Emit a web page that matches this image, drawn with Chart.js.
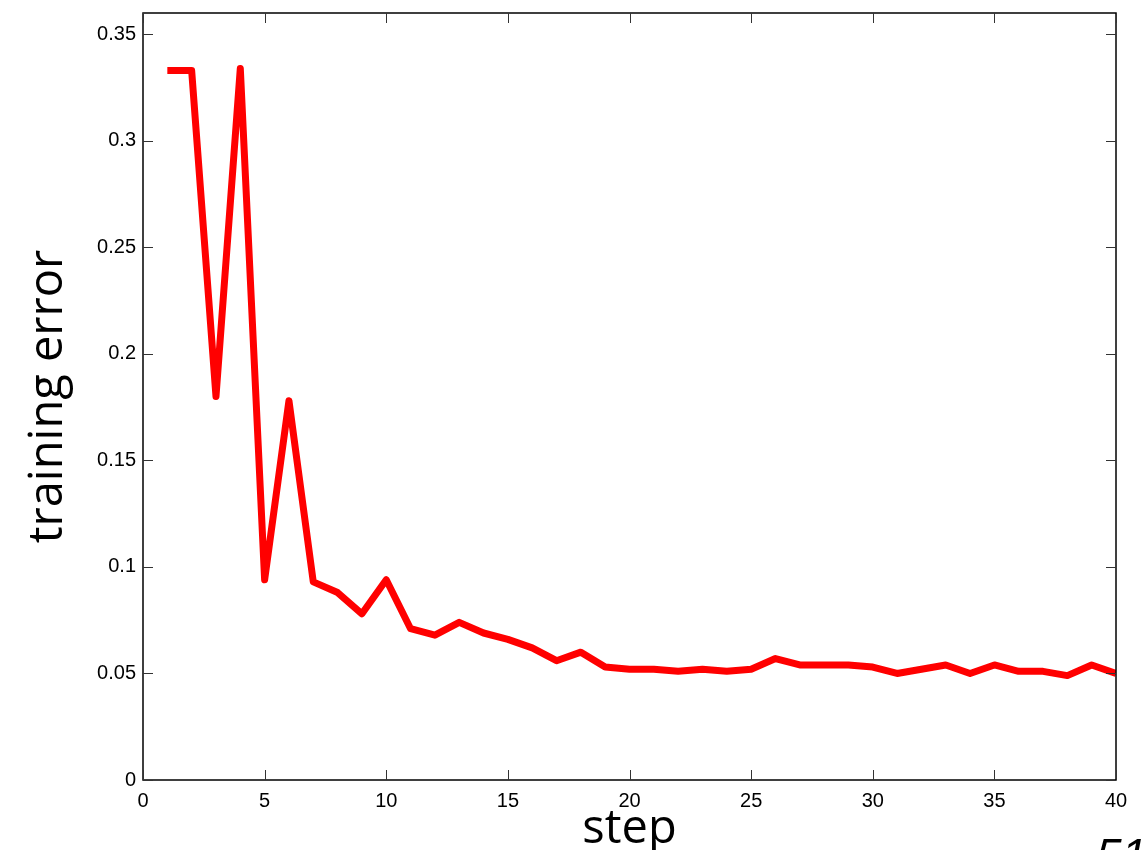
<!DOCTYPE html>
<html>
<head>
<meta charset="utf-8">
<script src="https://cdn.jsdelivr.net/npm/chart.js@4/dist/chart.umd.min.js"></script>
<style>
  html, body { margin: 0; padding: 0; background: #fff; overflow: hidden; }
  #wrap { position: relative; width: 1146px; height: 850px; }
  #pagenum { position: absolute; left: 1096px; top: 828px; font: italic 46px "Liberation Sans", sans-serif; color: #000; white-space: nowrap; }
</style>
</head>
<body>
<div id="wrap">
  <canvas id="errChart" width="1146" height="850"></canvas>
  <div id="pagenum">51</div>
</div>
<script>
// training error per step
const steps = [1, 2, 3, 4, 5, 6, 7, 8, 9, 10, 11, 12, 13, 14, 15, 16, 17, 18, 19, 20,
  21, 22, 23, 24, 25, 26, 27, 28, 29, 30, 31, 32, 33, 34, 35, 36, 37, 38, 39, 40];
const trainingError = [0.333, 0.333, 0.180, 0.334, 0.094, 0.178, 0.093, 0.088, 0.078, 0.094,
  0.071, 0.068, 0.074, 0.069, 0.066, 0.062, 0.056, 0.060, 0.053, 0.052,
  0.052, 0.051, 0.052, 0.051, 0.052, 0.057, 0.054, 0.054, 0.054, 0.053,
  0.050, 0.052, 0.054, 0.050, 0.054, 0.051, 0.051, 0.049, 0.054, 0.050];
const xTicks = [0, 5, 10, 15, 20, 25, 30, 35, 40];
const yTicks = [0, 0.05, 0.1, 0.15, 0.2, 0.25, 0.3, 0.35];

const tickFont = { family: '"Liberation Sans", Arial, sans-serif', size: 20 };
const titleFont = { family: '"Open Sans", "DejaVu Sans", sans-serif', size: 47 };

// box around the plot + short ticks pointing inwards on all four sides
const boxPlugin = {
  id: 'box',
  afterDraw(chart) {
    const c = chart.ctx, a = chart.chartArea;
    const xs = chart.scales.x, ys = chart.scales.y;
    c.save();
    c.strokeStyle = '#000';
    c.lineWidth = 1.5;
    c.strokeRect(a.left, a.top, a.right - a.left, a.bottom - a.top);
    c.lineWidth = 1;
    c.strokeStyle = '#333';
    const len = 10;
    c.beginPath();
    xTicks.forEach(v => {
      const px = Math.round(xs.getPixelForValue(v)) + 0.5;
      c.moveTo(px, a.bottom); c.lineTo(px, a.bottom - len);
      c.moveTo(px, a.top); c.lineTo(px, a.top + len);
    });
    yTicks.forEach(v => {
      const py = Math.round(ys.getPixelForValue(v)) + 0.5;
      c.moveTo(a.left, py); c.lineTo(a.left + len, py);
      c.moveTo(a.right, py); c.lineTo(a.right - len, py);
    });
    c.stroke();
    c.restore();
  }
};

const ctx = document.getElementById('errChart').getContext('2d');
const errChart = new Chart(ctx, {
  type: 'line',
  data: {
    datasets: [{
      label: 'training error',
      data: steps.map((s, i) => ({ x: s, y: trainingError[i] })),
      borderColor: '#ff0000',
      borderWidth: 7,
      borderJoinStyle: 'round',
      borderCapStyle: 'butt',
      pointRadius: 0,
      tension: 0
    }]
  },
  options: {
    responsive: false,
    animation: false,
    layout: { padding: { top: 13, right: 30, left: 0, bottom: 0 } },
    plugins: { legend: { display: false }, tooltip: { enabled: false } },
    scales: {
      x: {
        type: 'linear',
        min: 0, max: 40,
        afterBuildTicks: s => { s.ticks = xTicks.map(v => ({ value: v })); },
        afterFit: s => { s.height = 70; },
        grid: { display: false, drawTicks: false },
        border: { display: false },
        ticks: { color: '#000', font: tickFont, padding: 9, maxRotation: 0 },
        title: { display: true, text: 'step', color: '#000', font: titleFont, padding: { top: 0, bottom: -8 } }
      },
      y: {
        min: 0, max: 0.36,
        afterBuildTicks: s => { s.ticks = yTicks.map(v => ({ value: v })); },
        afterFit: s => { s.width = 143; s.paddingTop = 0; s.paddingBottom = 0; },
        grid: { display: false, drawTicks: false },
        border: { display: false },
        ticks: { color: '#000', font: tickFont, padding: 7, callback: v => String(+v.toFixed(2)) },
        title: { display: true, text: 'training error', color: '#000', font: titleFont, padding: { top: 20, bottom: 0 } }
      }
    }
  },
  plugins: [boxPlugin]
});
</script>
</body>
</html>
